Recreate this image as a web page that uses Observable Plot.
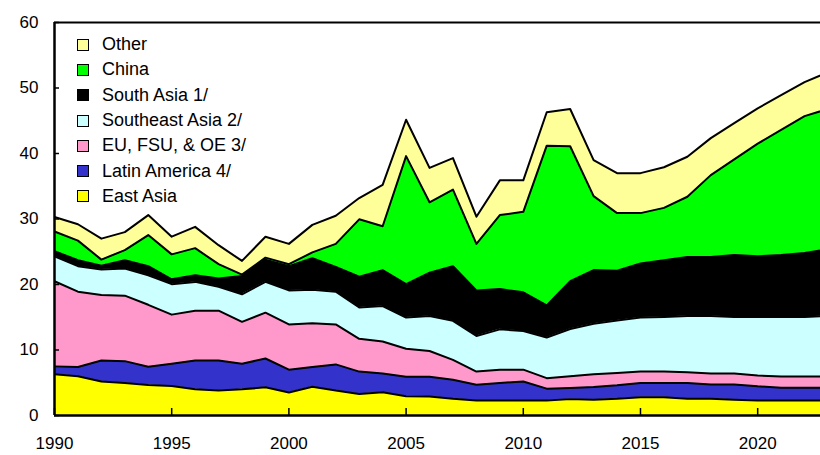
<!DOCTYPE html>
<html><head><meta charset="utf-8">
<script src="https://cdn.jsdelivr.net/npm/d3@7"></script>
<script src="https://cdn.jsdelivr.net/npm/@observablehq/plot@0.6"></script>
<style>
body{margin:0;background:#fff;font-family:"Liberation Sans",Arial,sans-serif;}
#wrap{position:relative;width:820px;height:455px;overflow:hidden;}
#title{position:absolute;left:46px;top:-14px;font-size:17px;line-height:17px;color:#808080;}
#legend{position:absolute;left:77px;top:32px;font-size:18px;color:#000;}
.item{display:flex;align-items:center;height:25.3px;white-space:nowrap}
.sw{width:10px;height:10px;border:1.5px solid #000;margin-right:13px;flex:none}
#chart svg{overflow:hidden}
</style></head>
<body><div id="wrap"><div id="chart"></div><div id="title">Million tons</div><div id="legend"></div></div>
<script>
const years = d3.range(1990, 2024);
const eastAsia = [6.3,6.0,5.2,4.95,4.65,4.5,4.0,3.8,4.0,4.3, 3.5,4.4,3.8,3.3,3.55,2.95,2.9,2.55,2.3,2.3, 2.3,2.3,2.5,2.4,2.55,2.8,2.8,2.55,2.55,2.4, 2.3,2.3,2.3,2.3];
const latinAmerica = [1.2,1.4,3.2,3.35,2.8,3.4,4.4,4.6,3.9,4.4, 3.5,3.0,4.0,3.4,2.85,2.95,3.0,2.9,2.4,2.65, 2.9,1.8,1.7,1.95,2.05,2.15,2.15,2.4,2.2,2.35, 2.15,1.95,1.95,1.95];
const euFsuOe = [13.0,11.5,10.0,10.0,9.45,7.5,7.6,7.6,6.4,7.0, 6.9,6.7,6.1,5.0,4.9,4.3,3.95,3.05,2.0,2.05, 1.8,1.6,1.8,1.95,1.9,1.75,1.75,1.65,1.65,1.65, 1.65,1.7,1.7,1.7];
const southeastAsia = [3.8,3.9,3.9,4.15,4.5,4.65,4.4,3.65,4.2,4.7, 5.2,5.1,5.0,4.8,5.4,4.75,5.35,5.95,5.45,6.15, 5.9,6.2,7.2,7.7,8.0,8.25,8.35,8.6,8.8,8.65, 8.95,9.1,9.1,9.25];
const southAsia = [0.8,0.9,0.55,1.25,1.4,0.75,1.0,1.25,2.8,3.4, 3.7,4.8,3.8,4.7,5.5,5.1,6.6,8.35,6.95,6.15, 5.9,4.9,7.3,8.2,7.6,8.25,8.65,9.0,9.0,9.45, 9.25,9.45,9.75,10.2];
const china = [3.0,3.0,0.95,1.55,4.75,3.8,4.15,2.2,0.2,0.3, 0.3,0.9,3.5,8.75,6.7,19.55,10.75,11.7,7.1,11.3, 12.3,24.4,20.6,11.3,8.8,7.7,8.0,9.2,12.5,14.6, 17.2,19.1,20.9,21.4];
const other = [2.2,2.5,3.2,2.75,3.05,2.7,3.25,2.9,2.1,3.2, 3.1,4.2,4.3,3.25,6.3,5.55,5.25,4.8,4.15,5.3, 4.8,5.1,5.7,5.5,6.1,6.1,6.2,6.1,5.65,5.55, 5.4,5.3,5.2,5.6];

const seriesNames = ["East Asia","Latin America 4/","EU, FSU, & OE 3/","Southeast Asia 2/","South Asia 1/","China","Other"];
const seriesColors = ["#FFFF00","#3333CC","#FF99CC","#CCFFFF","#000000","#00FF00","#FFFF99"];
const seriesValues = [eastAsia, latinAmerica, euFsuOe, southeastAsia, southAsia, china, other];
const xTicks = [1990,1995,2000,2005,2010,2015,2020];
const yTicks = [0,10,20,30,40,50,60];

const data = years.flatMap((yr, i) => seriesNames.map((s, j) => ({year: yr, series: s, value: seriesValues[j][i]})));

const chart = Plot.plot({
  width: 820, height: 455,
  marginLeft: 54, marginTop: 22, marginBottom: 40, marginRight: 0,
  x: {domain: [1990, 2022.68], label: null},
  y: {domain: [0, 60], label: null},
  color: {domain: seriesNames, range: seriesColors},
  style: {fontFamily: '"Liberation Sans", Arial, sans-serif', fontSize: "17px", color: "#000", background: "#fff"},
  marks: [
    Plot.areaY(data, {x: "year", y: "value", fill: "series", order: seriesNames, clip: true}),
    Plot.lineY(data, Plot.stackY2({x: "year", y: "value", z: "series", order: seriesNames, stroke: "#000", strokeWidth: 2, clip: true})),
    Plot.ruleY([0], {stroke: "#000", strokeWidth: 2.5}),
    Plot.ruleY([60], {stroke: "#000", strokeWidth: 2}),
    Plot.ruleX([1990], {stroke: "#000", strokeWidth: 2.5}),
    Plot.axisY({ticks: yTicks, tickSize: -5, tickPadding: 21, tickFormat: d => String(d), label: null, stroke: "#000", strokeWidth: 1.5}),
    Plot.axisX({ticks: xTicks, tickSize: -7, tickPadding: 28.6, tickFormat: d => String(d), label: null, stroke: "#000", strokeWidth: 1.5})
  ]
});
document.getElementById("chart").appendChild(chart);

const legend = document.getElementById("legend");
for (let j = seriesNames.length - 1; j >= 0; j--) {
  const it = document.createElement("div");
  it.className = "item";
  const sw = document.createElement("span");
  sw.className = "sw";
  sw.style.background = seriesColors[j];
  const tx = document.createElement("span");
  tx.textContent = seriesNames[j];
  it.appendChild(sw); it.appendChild(tx);
  legend.appendChild(it);
}
</script>
</body></html>
